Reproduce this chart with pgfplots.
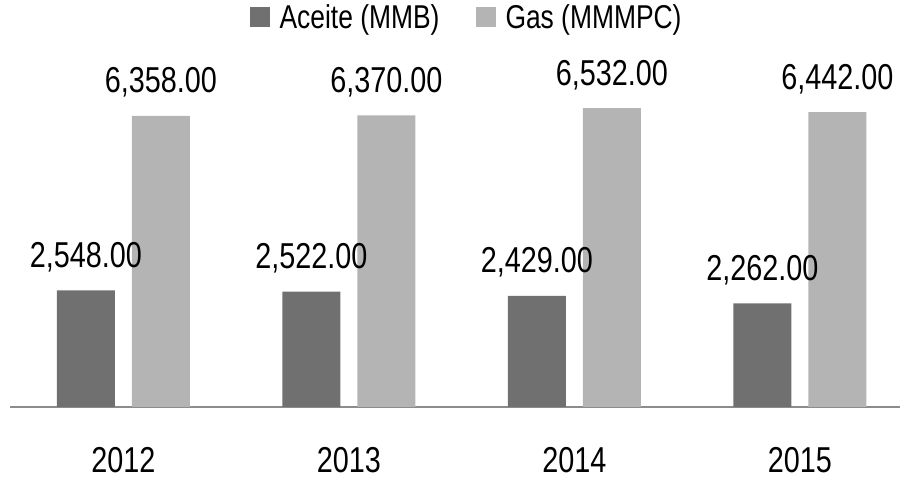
\documentclass[border=0pt]{standalone}
\usepackage{fontspec}
\setmainfont{Liberation Sans}[FakeStretch=0.8]
\usepackage{pgfplots}
\pgfplotsset{compat=1.18}
\definecolor{darkbar}{HTML}{707070}
\definecolor{lightbar}{HTML}{B4B4B4}
\definecolor{axisgray}{HTML}{8C8C8C}
\begin{document}
\begin{tikzpicture}[x=1pt,y=1pt]
\useasboundingbox (0,0) rectangle (900,482);
\begin{axis}[
  at={(10pt,75pt)}, anchor=south west,
  scale only axis, width=890pt, height=407pt,
  xmin=-0.503, xmax=3.444, ymin=0, ymax=8892,
  axis x line*=bottom, axis y line=none,
  axis line style={axisgray, line width=1.5pt},
  xtick={0,1,2,3}, xticklabels={2012,2013,2014,2015},
  major tick length=0pt,
  xticklabel style={font=\fontsize{36}{40}\selectfont, anchor=base, yshift=-66pt},
  ytick=\empty,
  legend style={at={(0.513,1)}, anchor=north, draw=none, fill=none,
    font=\fontsize{33}{36}\selectfont, legend columns=2,
    /tikz/every even column/.append style={column sep=34pt}},
  legend image code/.code={\fill[#1] (0pt,-10pt) rectangle (20pt,10pt); \path (28pt,0pt);},
  clip=false,
]
\addplot[ybar, fill=darkbar, draw=none, bar width=58pt, bar shift=-37.5pt,
  nodes near coords={\pgfmathprintnumber[fixed, fixed zerofill, precision=2, 1000 sep={,}, assume math mode=true]{\pgfplotspointmeta}},
  every node near coord/.append style={anchor=base, yshift=23pt, xshift=-37.5pt, text=black, font=\fontsize{36}{40}\selectfont}]
  coordinates {(0,2548) (1,2522) (2,2429) (3,2262)};
\addlegendentry{Aceite (MMB)}
\addplot[ybar, fill=lightbar, draw=none, bar width=58pt, bar shift=37.5pt,
  nodes near coords={\pgfmathprintnumber[fixed, fixed zerofill, precision=2, 1000 sep={,}, assume math mode=true]{\pgfplotspointmeta}},
  every node near coord/.append style={anchor=base, yshift=23pt, xshift=37.5pt, text=black, font=\fontsize{36}{40}\selectfont}]
  coordinates {(0,6358) (1,6370) (2,6532) (3,6442)};
\addlegendentry{Gas (MMMPC)}
\end{axis}
\end{tikzpicture}
\end{document}
